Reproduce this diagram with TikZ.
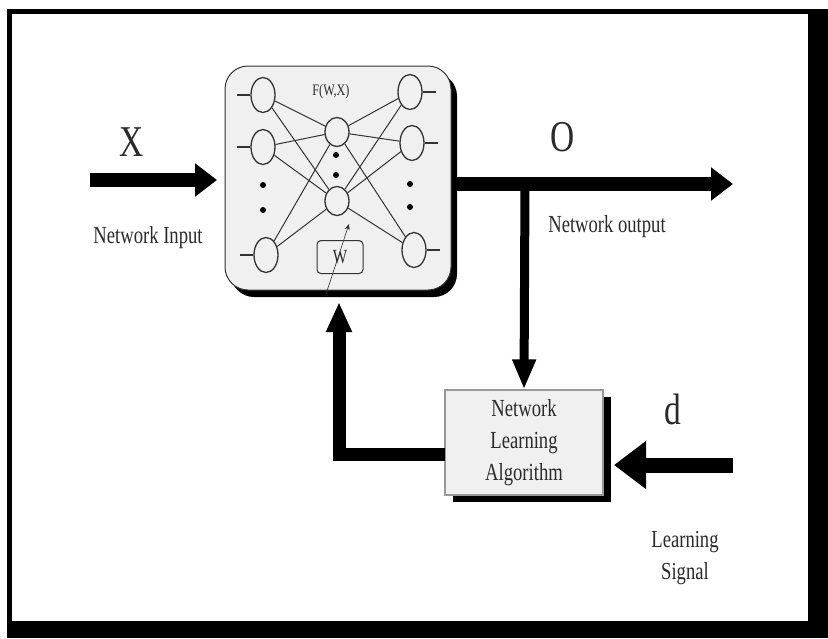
\documentclass[tikz,border=0pt]{standalone}
\usepackage{fontspec}
\setmainfont[FakeStretch=0.76]{Liberation Serif}
\usetikzlibrary{arrows.meta,shapes.geometric,shadows}
\definecolor{boxfill}{HTML}{F0F0F0}
\definecolor{txt}{HTML}{2A2A2A}
\definecolor{edge}{HTML}{333333}
\begin{document}
\begin{tikzpicture}[x=1pt,y=-1pt,
  neuron/.style={ellipse, draw=edge, line width=1.3pt, fill=boxfill, inner sep=0pt, minimum width=24pt, minimum height=35pt},
  hid/.style={neuron, minimum height=29pt},
  link/.style={draw=edge, line width=1pt},
  dotm/.style={circle, fill=black, inner sep=0pt, minimum size=6pt},
  bigarrow/.style={line width=14pt, -{Triangle[length=22pt,width=32pt]}},
  midarrow/.style={line width=9pt, -{Triangle[length=30pt,width=22pt]}},
  lbl/.style={text=txt, font=\fontsize{24.5}{32}\selectfont, inner sep=0pt},
  sym/.style={text=txt, font=\fontsize{44}{44}\selectfont, inner sep=0pt}
]
\useasboundingbox (0,0) rectangle (828,638);
\fill[white] (0,0) rectangle (828,638);
\fill[black] (7,9) rectangle (828,638);
\fill[white] (12,14) rectangle (808,621);

% network box
\node[draw=edge, fill=boxfill, rounded corners=23pt, line width=1pt,
      minimum width=226pt, minimum height=224pt, inner sep=0pt,
      general shadow={fill=black, shadow xshift=6pt, shadow yshift=-7pt}] (net) at (338,178) {};

% neurons
\node[neuron] (l1) at (263,95) {};
\node[neuron] (l2) at (263,147) {};
\node[neuron] (l3) at (266,255) {};
\node[hid] (m1) at (337,132) {};
\node[hid] (m2) at (337,201) {};
\node[neuron] (r1) at (410,92) {};
\node[neuron] (r2) at (412,143) {};
\node[neuron] (r3) at (414,250) {};

\foreach \a in {l1,l2,l3}{\foreach \b in {m1,m2}{\draw[link] (\a) -- (\b);}}
\foreach \a in {m1,m2}{\foreach \b in {r1,r2,r3}{\draw[link] (\a) -- (\b);}}
\foreach \a in {l1,l2,l3}{\draw[link, line width=1.4pt] (\a.west) -- ++(-13,0);}
\foreach \a in {r1,r2,r3}{\draw[link, line width=1.4pt] (\a.east) -- ++(13,0);}

\node[dotm] (ld1) at (263,185) {};
\node[dotm] (ld2) at (263,210) {};
\node[dotm] (md1) at (336,155) {};
\node[dotm] (md2) at (336,175) {};
\node[dotm] (rd1) at (410,184) {};
\node[dotm] (rd2) at (410,207) {};

\node[text=txt, font=\fontsize{16}{16}\selectfont, inner sep=0pt] (fwx) at (331,92) {F(W,X)};

\node[draw=edge, fill=boxfill, rounded corners=4pt, line width=1pt,
      minimum width=46pt, minimum height=33pt, inner sep=0pt,
      text=txt, font=\fontsize{20}{20}\selectfont] (wbox) at (340,257) {W};
\coordinate (wa) at (326,294);
\coordinate (wb) at (349,224);
\draw[edge, line width=0.6pt, -{Stealth[length=6pt,width=5pt]}] (wa) -- (wb);

% learning box
\node[draw=gray!80, fill=boxfill, line width=1.2pt,
      minimum width=158pt, minimum height=105pt, inner sep=0pt,
      general shadow={fill=black, shadow xshift=8pt, shadow yshift=-7pt},
      lbl, align=center] (learn) at (524,442.5) {Network\\Learning\\Algorithm};

% arrows
\coordinate (xin) at (90,180);
\coordinate (xtip) at (217,180);
\draw[bigarrow] (xin) -- (xtip);

\coordinate (oout) at (457,184);
\coordinate (oend) at (733,184);
\coordinate (obr) at (525,184);
\draw[bigarrow] (oout) -- (oend);
\draw[midarrow] (obr) -- (learn.north);

\coordinate (fbstart) at (445,454);
\coordinate (fbtip) at (339,302);
\draw[line width=13pt, -{Triangle[length=30pt,width=24pt]}] (fbstart) -| (fbtip);

\coordinate (dstart) at (733,465);
\coordinate (dtip) at (614,465);
\draw[line width=15pt, -{Triangle[length=32pt,width=46pt]}] (dstart) -- (dtip);

% labels
\node[sym] (xl) at (132,142) {X};
\node[lbl] (nin) at (148,238) {Network Input};
\node[sym] (ol) at (563,137) {O};
\node[lbl] (nout) at (607,227) {Network output};
\node[sym] (dl) at (673,409) {d};
\node[lbl, align=center] (ls) at (685,558) {Learning\\Signal};
\end{tikzpicture}
\end{document}
